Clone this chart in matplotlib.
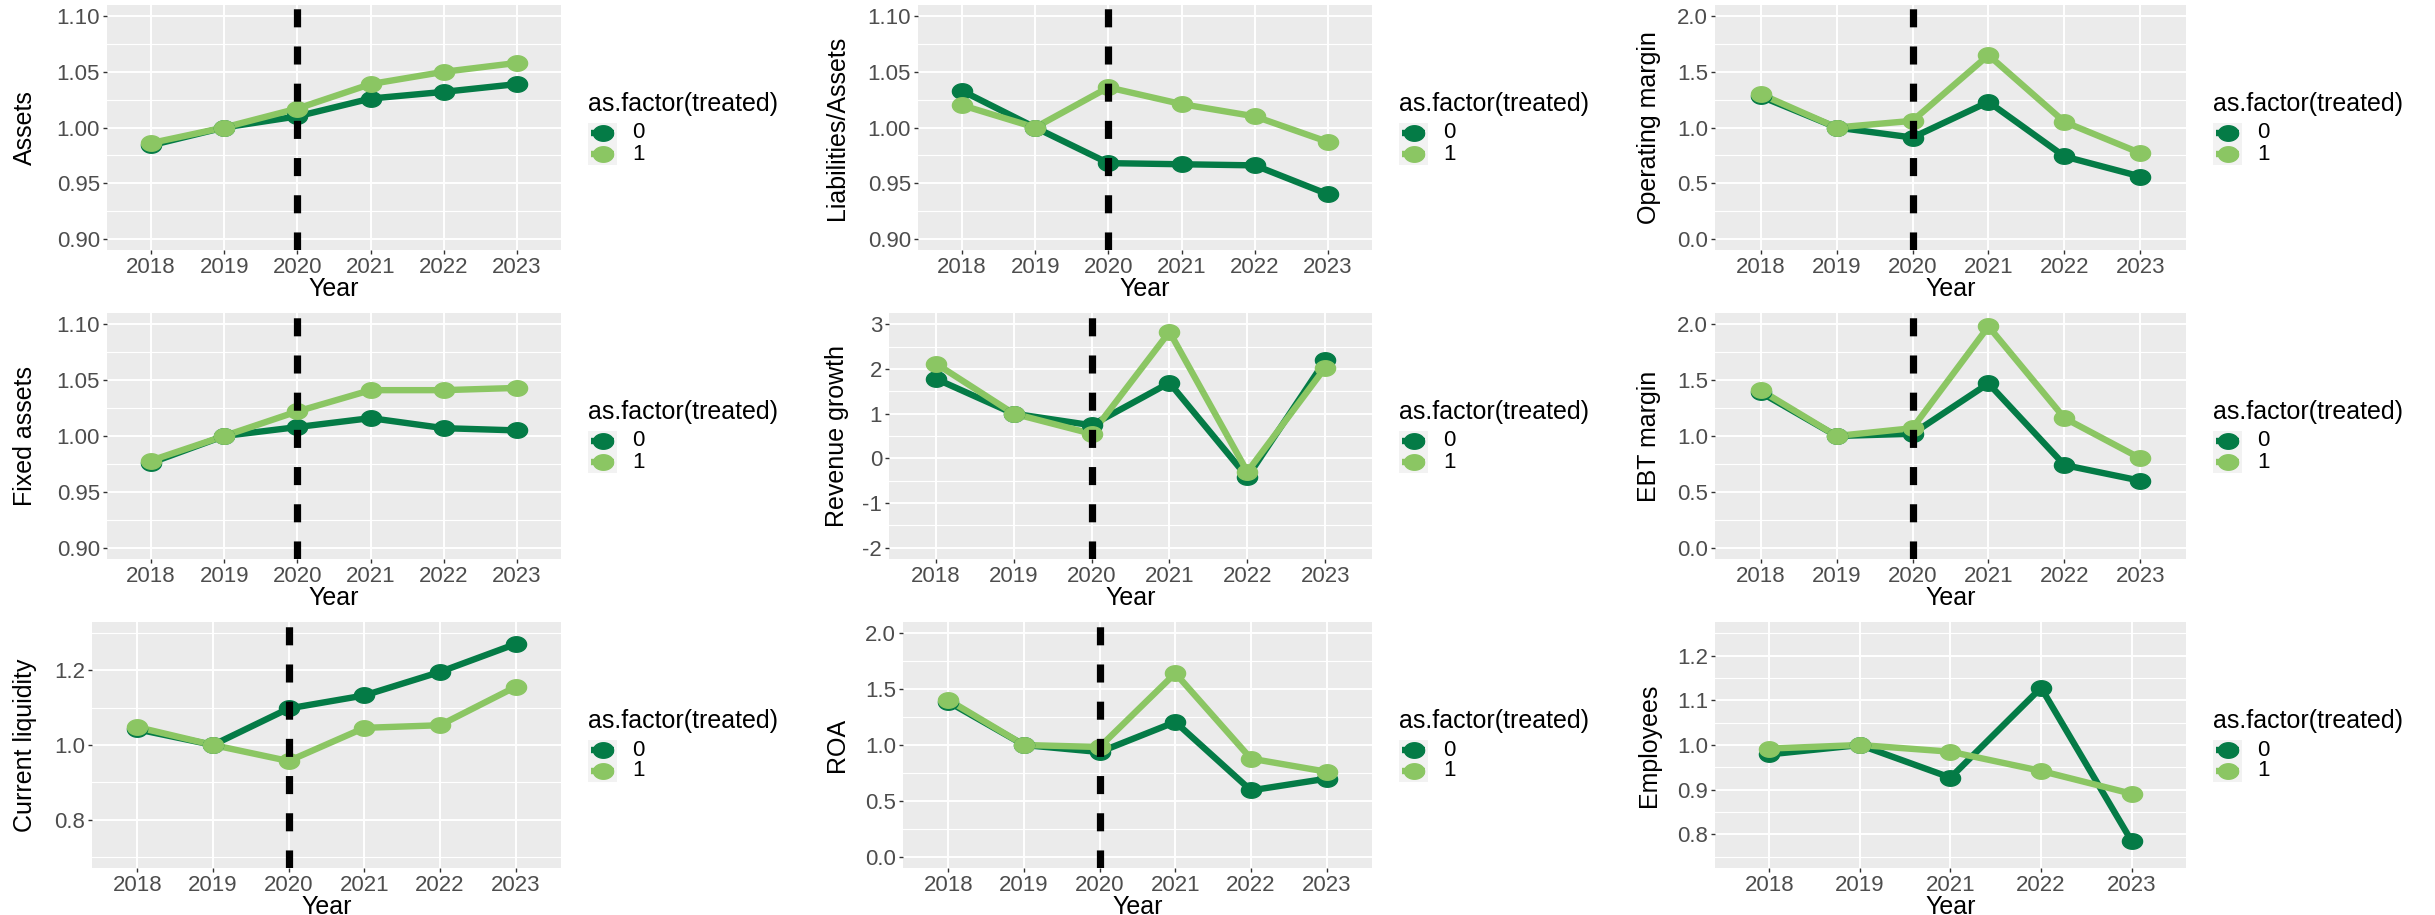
import numpy as np
import matplotlib
matplotlib.use("Agg")
import matplotlib.pyplot as plt
import matplotlib.transforms as mtransforms
from matplotlib.path import Path
from matplotlib.patches import Rectangle
from matplotlib.lines import Line2D

plt.rcParams['font.family'] = ['Liberation Sans', 'DejaVu Sans']

# group means indexed to 2019 = 1, control (0) vs treated (1)
years = ["2018", "2019", "2020", "2021", "2022", "2023"]
years_emp = ["2018", "2019", "2021", "2022", "2023"]

assets_0 = [0.984, 1.000, 1.010, 1.026, 1.032, 1.039]
assets_1 = [0.986, 1.000, 1.017, 1.039, 1.050, 1.058]
liab_0 = [1.033, 1.000, 0.968, 0.967, 0.966, 0.940]
liab_1 = [1.020, 1.000, 1.036, 1.021, 1.010, 0.987]
opm_0 = [1.28, 1.00, 0.91, 1.23, 0.74, 0.56]
opm_1 = [1.30, 1.00, 1.06, 1.65, 1.05, 0.77]
fixed_0 = [0.976, 1.000, 1.008, 1.016, 1.007, 1.005]
fixed_1 = [0.978, 1.000, 1.022, 1.041, 1.041, 1.043]
rev_0 = [1.78, 1.00, 0.74, 1.69, -0.42, 2.19]
rev_1 = [2.12, 1.00, 0.55, 2.83, -0.30, 2.03]
ebt_0 = [1.39, 1.00, 1.02, 1.47, 0.74, 0.60]
ebt_1 = [1.41, 1.00, 1.07, 1.98, 1.16, 0.80]
liq_0 = [1.042, 1.000, 1.098, 1.133, 1.196, 1.271]
liq_1 = [1.048, 1.000, 0.957, 1.046, 1.053, 1.156]
roa_0 = [1.385, 1.000, 0.937, 1.206, 0.594, 0.699]
roa_1 = [1.403, 1.000, 0.982, 1.642, 0.878, 0.761]
emp_0 = [0.979, 1.000, 0.927, 1.128, 0.785]
emp_1 = [0.992, 1.000, 0.985, 0.942, 0.891]

treat_year = "2020"
groups = ["0", "1"]
colors = ["#047B46", "#8BC663"]

# y scales: (limits, major breaks, minor breaks, label format)
sc_ratio = ((0.9, 1.1), np.arange(0.90, 1.101, 0.05), np.arange(0.925, 1.1, 0.05), "{:.2f}")
sc_margin = ((0.0, 2.0), np.arange(0.0, 2.01, 0.5), np.arange(0.25, 2.0, 0.5), "{:.1f}")
sc_rev = ((-2.0, 3.0), np.arange(-2, 4, 1), np.arange(-1.5, 3.0, 1.0), "{:.0f}")
sc_liq = ((0.7, 1.3), np.array([0.8, 1.0, 1.2]), np.array([0.7, 0.9, 1.1, 1.3]), "{:.1f}")
sc_emp = ((0.75, 1.25), np.arange(0.8, 1.21, 0.1), np.arange(0.75, 1.26, 0.1), "{:.1f}")

panels = [
    ("Assets", years, assets_0, assets_1, sc_ratio),
    ("Liabilities/Assets", years, liab_0, liab_1, sc_ratio),
    ("Operating margin", years, opm_0, opm_1, sc_margin),
    ("Fixed assets", years, fixed_0, fixed_1, sc_ratio),
    ("Revenue growth", years, rev_0, rev_1, sc_rev),
    ("EBT margin", years, ebt_0, ebt_1, sc_margin),
    ("Current liquidity", years, liq_0, liq_1, sc_liq),
    ("ROA", years, roa_0, roa_1, sc_margin),
    ("Employees", years_emp, emp_0, emp_1, sc_emp),
]

# layout in pixels
W, H = 2435, 915
cell_x = [0, 812, 1624]
tops = [5, 313, 622]
bottoms = [250, 559, 868]
rights = [561, 1372, 2186]
lefts = [[107, 918, 1715],
         [107, 889, 1715],
         [92, 903, 1715]]


def fx(x):
    return x / W


def fy(y):
    return 1 - y / H


# slightly wide oval point
theta = np.linspace(0, 2 * np.pi, 49)
oval = Path(np.c_[1.3 * np.cos(theta), np.sin(theta)], closed=True)

LW = 4.6
MS = 14.5
TICK_FS = 16
TITLE_FS = 18

fig = plt.figure(figsize=(W / 100, H / 100), dpi=100)

for i, (label, cats, v0, v1, scale) in enumerate(panels):
    r, c = divmod(i, 3)
    l, rt, t, b = lefts[r][c], rights[c], tops[r], bottoms[r]
    ax = fig.add_axes([fx(l), fy(b), (rt - l) / W, (b - t) / H])
    ax.set_facecolor("#EBEBEB")
    for s in ax.spines.values():
        s.set_visible(False)

    (lo, hi), major, minor, fmt = scale
    pad = (hi - lo) * 0.05
    ylo, yhi = lo - pad, hi + pad
    n = len(cats)
    xs = np.arange(n)

    ax.set_xlim(-0.6, n - 0.4)
    ax.set_ylim(ylo, yhi)
    ax.set_xticks(xs)
    ax.set_xticklabels(cats)
    ax.set_yticks(major)
    ax.set_yticklabels([fmt.format(v) for v in major])
    ax.set_yticks(minor, minor=True)
    ax.set_axisbelow(True)
    ax.grid(True, which="major", color="white", lw=1.4)
    ax.grid(True, which="minor", axis="y", color="white", lw=0.8)
    ax.tick_params(which="major", length=3, width=1.0, color="#333333",
                   labelsize=TICK_FS, labelcolor="#4D4D4D", pad=2)
    ax.tick_params(which="minor", length=0)

    for vals, col in zip([v0, v1], colors):
        ax.plot(xs, vals, color=col, lw=LW, solid_capstyle="butt",
                solid_joinstyle="round", zorder=3)
    for vals, col in zip([v0, v1], colors):
        ax.plot(xs, vals, ls="none", marker=oval, ms=MS, color=col, zorder=4)

    if treat_year in cats:
        xv = cats.index(treat_year)
        ax.plot([xv, xv], [ylo, yhi], color="black", lw=5.2,
                dashes=(2.5, 2.65), dash_capstyle="butt", zorder=5)

    ax.set_ylabel(label, fontsize=TITLE_FS, color="black", va="center")
    ax.yaxis.set_label_coords(
        fx(cell_x[c] + 25), 0.5,
        transform=mtransforms.blended_transform_factory(fig.transFigure, ax.transAxes))
    ax.set_xlabel("Year", fontsize=TITLE_FS, color="black", va="center")
    ax.xaxis.set_label_coords(
        0.5, fy(b + 39),
        transform=mtransforms.blended_transform_factory(ax.transAxes, fig.transFigure))

    # legend
    lx = rt + 27
    fig.text(fx(lx), fy(t + 99), "as.factor(treated)", fontsize=TITLE_FS,
             ha="left", va="center", color="black")
    fig.add_artist(Rectangle((fx(lx), fy(t + 160)), 29 / W, 42 / H,
                             transform=fig.transFigure, facecolor="#F2F2F2",
                             edgecolor="none"))
    for k, (g, col) in enumerate(zip(groups, colors)):
        ky = t + 128 + 21 * k
        fig.add_artist(Line2D([fx(lx + 3), fx(lx + 26)], [fy(ky), fy(ky)],
                              transform=fig.transFigure, color=col, lw=LW,
                              solid_capstyle="butt"))
        fig.add_artist(Line2D([fx(lx + 14.5)], [fy(ky)], transform=fig.transFigure,
                              ls="none", marker=oval, ms=MS, color=col))
        fig.text(fx(lx + 44), fy(ky), g, fontsize=TICK_FS, ha="left", va="center",
                 color="black")

fig.savefig("out.png", dpi=100, facecolor="white")
